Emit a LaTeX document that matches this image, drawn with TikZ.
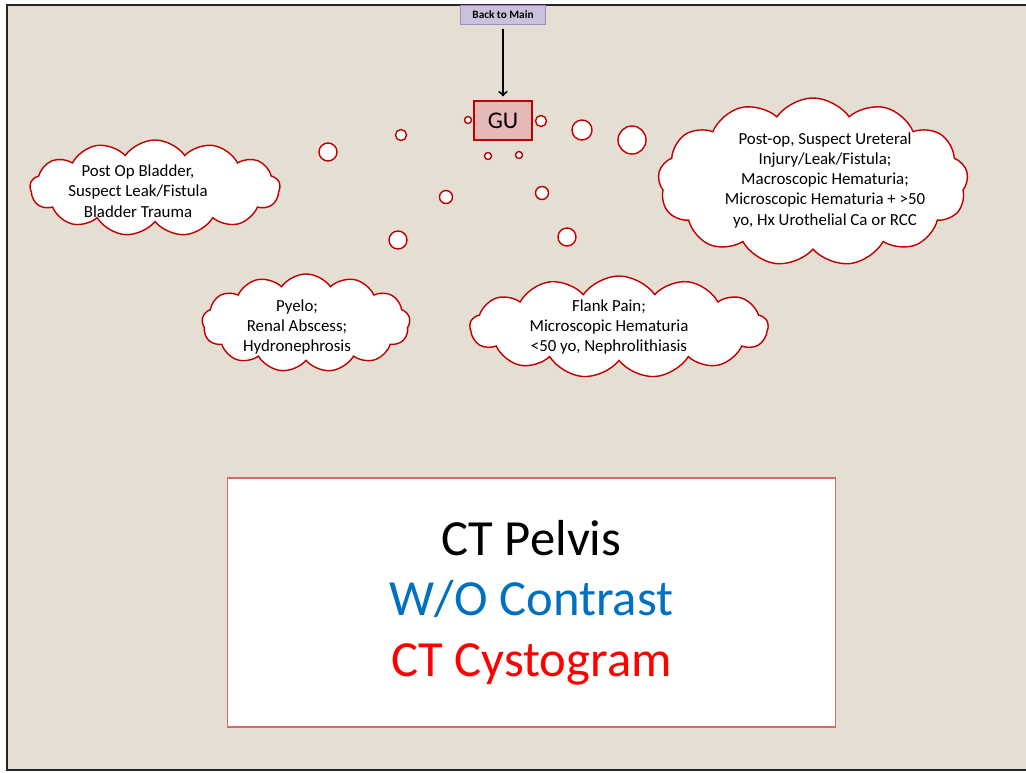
\documentclass[tikz,border=0pt]{standalone}
\usepackage{fontspec}
\setmainfont{Carlito}
\usepackage{tikz}
\usetikzlibrary{shapes.symbols}
\definecolor{slidebg}{HTML}{E4DED3}
\definecolor{cloudred}{HTML}{C00000}
\definecolor{gufill}{HTML}{E6B9B8}
\definecolor{backfill}{HTML}{CCC1DA}
\definecolor{backline}{HTML}{9A8BC0}
\definecolor{boxline}{HTML}{D46A6A}
\definecolor{wocolor}{HTML}{0070C0}

\begin{document}
\begin{tikzpicture}[x=0.025cm, y=-0.025cm,
            cloudnode/.style={cloud, cloud puffs=13, cloud puff arc=110, cloud ignores aspect, draw=cloudred, fill=white,
                              line width=1pt, inner sep=0pt},
            cloudtext/.style={align=center, inner sep=0pt, font=\fontsize{12}{14.4}\selectfont},
            bubble/.style={circle, draw=cloudred, fill=white, line width=1pt, inner sep=0pt},
            backbtn/.style={rectangle, draw=backline, fill=backfill, font=\bfseries\fontsize{8}{9}\selectfont,
                            minimum width=2.125cm, minimum height=0.475cm, inner sep=0pt},
            gubox/.style={rectangle, draw=cloudred, fill=gufill, line width=1pt, font=\fontsize{17}{20}\selectfont,
                          minimum width=1.45cm, minimum height=0.975cm},
            resultbox/.style={rectangle, draw=boxline, fill=white, line width=0.8pt, align=center,
                              font=\fontsize{36}{43}\selectfont, minimum width=15.175cm, minimum height=6.225cm}
        ]
        \useasboundingbox (0,0) rectangle (1026,772);
        \fill[slidebg] (7,5) rectangle (1040,770);
        \draw[line width=2pt, black!85] (1040,5) -- (7,5) -- (7,770) -- (1040,770);

        % top: link back and GU
        \node[backbtn] (back) at (503,15) {Back to Main};
        \node[gubox] (gu) at (503,120.5) {GU};
        \draw[->, line width=1.4pt, shorten <=0.1cm, shorten >=0.1cm] (back) -- (gu);

        % thought bubbles
        \foreach \bx/\by/\bd [count=\i] in {468/120/7, 541/121/11, 488/156/7, 519/155/7,
                                          582/130/20, 632/140/28, 401/135/11, 328/152/18,
                                          446/197/13, 542/193/13, 398/240/18, 567/237/18}
            \node[bubble, minimum size=\bd*0.025cm] (b\i) at (\bx,\by) {};

        % indications
        \node[cloudnode, minimum width=6.25cm, minimum height=2.4cm] (bladder) at (155,188) {};
        \node[cloudtext] (bladdertxt) at ([shift={(-17,3)}]bladder.center)
            {Post Op Bladder,\\Suspect Leak/Fistula\\Bladder Trauma};
        \node[cloudnode, minimum width=7.75cm, minimum height=4.2cm] (ureter) at (813,182) {};
        \node[cloudtext] (uretertxt) at ([shift={(12,-2)}]ureter.center)
            {Post-op, Suspect Ureteral\\Injury/Leak/Fistula;\\Macroscopic Hematuria;\\Microscopic Hematuria + >50\\yo, Hx Urothelial Ca or RCC};
        \node[cloudnode, minimum width=5.2cm, minimum height=2.45cm] (pyelo) at (306,323) {};
        \node[cloudtext] (pyelotxt) at ([shift={(-9,4)}]pyelo.center)
            {Pyelo;\\Renal Abscess;\\Hydronephrosis};
        \node[cloudnode, minimum width=7.45cm, minimum height=2.55cm] (flank) at (619,327) {};
        \node[cloudtext] (flanktxt) at ([shift={(-10,0)}]flank.center)
            {Flank Pain;\\Microscopic Hematuria\\<50 yo, Nephrolithiasis};

        % study
        \node[resultbox] (result) at (531.5,602.5)
            {CT Pelvis\\\textcolor{wocolor}{W/O Contrast}\\\textcolor{red}{CT Cystogram}};
\end{tikzpicture}
\end{document}
